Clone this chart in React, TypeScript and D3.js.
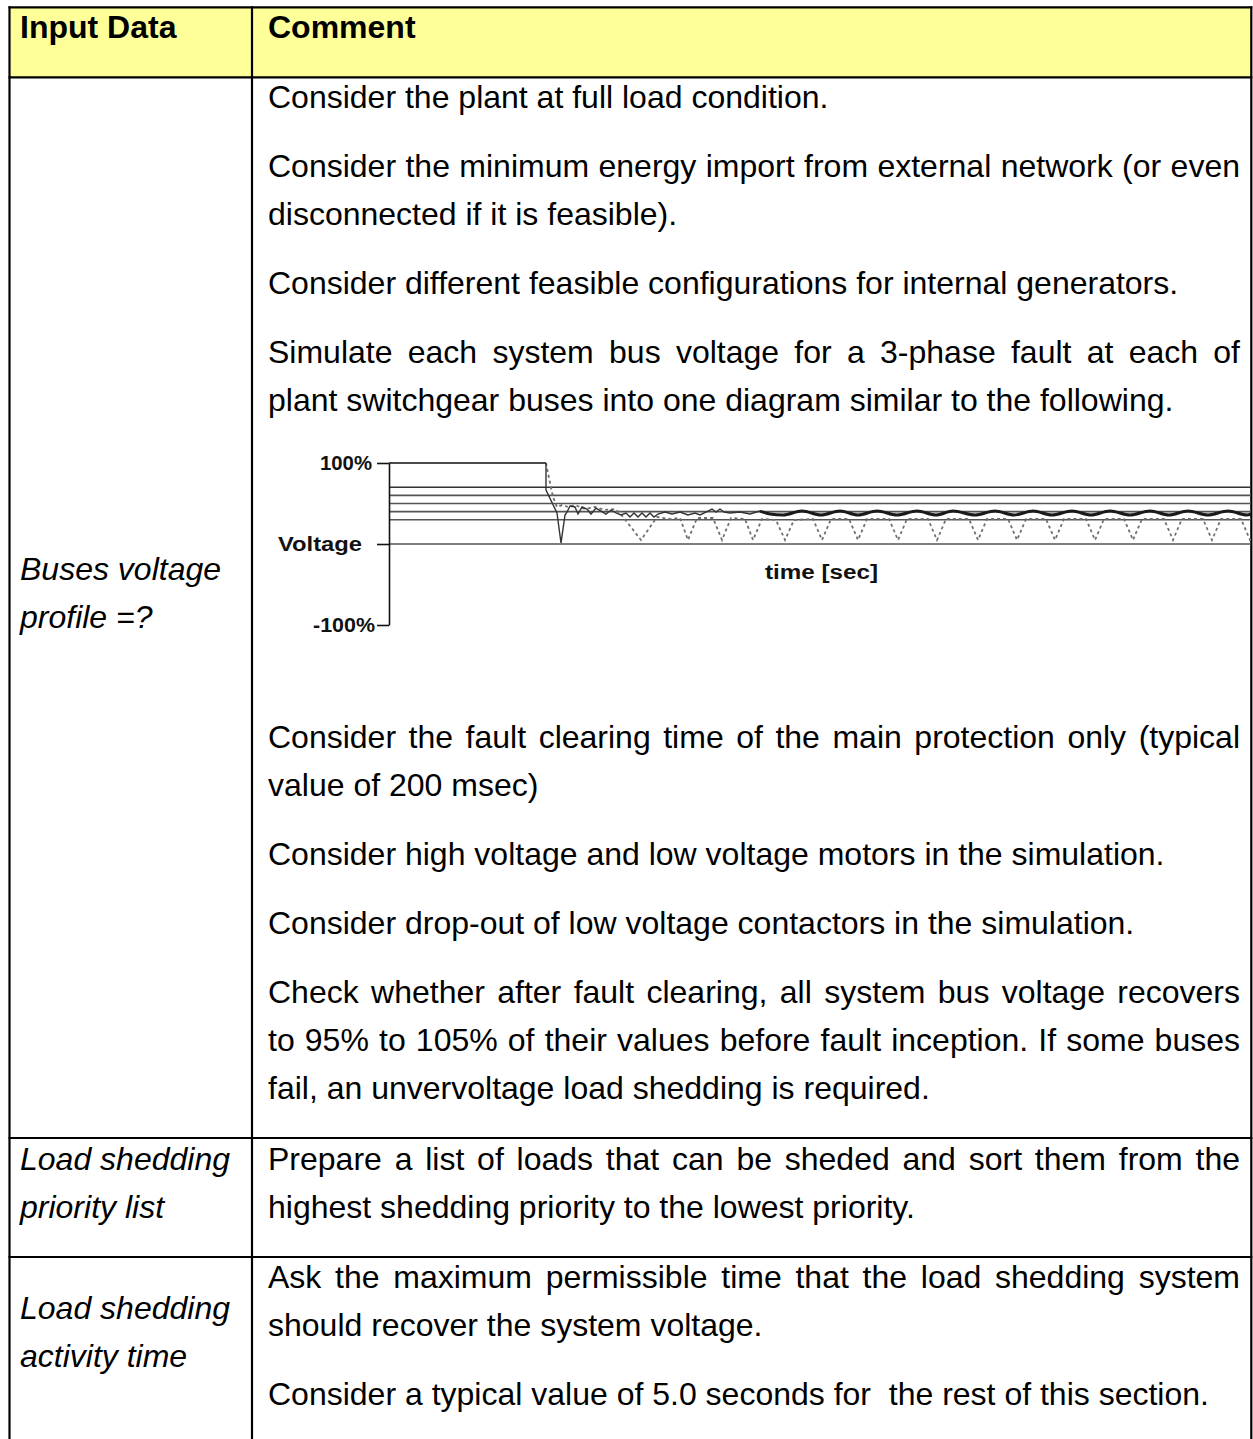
import React, { useEffect, useRef } from "react";
import * as d3 from "d3";

// ---------- table content ----------
const headerLabels = ["Input Data", "Comment"];
const inputLabels = [
  ["Buses voltage", "profile =?"],
  ["Load shedding", "priority list"],
  ["Load shedding", "activity time"],
];
const row1ParagraphsBefore = [
  ["Consider the plant at full load condition."],
  ["Consider the minimum energy import from external network (or even", "disconnected if it is feasible)."],
  ["Consider different feasible configurations for internal generators."],
  ["Simulate each system bus voltage for a 3-phase fault at each of", "plant switchgear buses into one diagram similar to the following."],
];
const row1ParagraphsAfter = [
  ["Consider the fault clearing time of the main protection only (typical", "value of 200 msec)"],
  ["Consider high voltage and low voltage motors in the simulation."],
  ["Consider drop-out of low voltage contactors in the simulation."],
  [
    "Check whether after fault clearing, all system bus voltage recovers",
    "to 95% to 105% of their values before fault inception. If some buses",
    "fail, an unvervoltage load shedding is required.",
  ],
];
const row2Paragraphs = [
  ["Prepare a list of loads that can be sheded and sort them from the", "highest shedding priority to the lowest priority."],
];
const row3Paragraphs = [
  ["Ask the maximum permissible time that the load shedding system", "should recover the system voltage."],
  ["Consider a typical value of 5.0 seconds for  the rest of this section."],
];

// ---------- chart content ----------
const yTickValues = [100, 0, -100];
const yTickLabels = ["100%", "Voltage", "-100%"];
const xAxisLabel = "time [sec]";
const timeDomain = [0, 86.2];
const busLevels = [70, 60, 50, 40, 30, 0];
const prefaultSeries: [number, number][] = [[0, 100], [15.7, 100]];
const transientSeries: [number, number][] = [
  [15.7, 100], [15.7, 66.7], [16.8, 38.3], [17.2, 1.2], [17.6, 35.8], [17.8, 39.5],
  [18.1, 46.9], [18.6, 45.7], [18.9, 37.0], [19.3, 45.7], [19.8, 43.2], [20.2, 37.0],
  [20.7, 44.4], [21.2, 40.7], [21.7, 37.0], [22.2, 42.0], [22.7, 38.3], [23.2, 35.8],
  [23.7, 38.3], [24.1, 33.3], [24.5, 38.3], [24.9, 33.3], [25.3, 38.3], [25.7, 33.3],
  [26.1, 38.3], [26.5, 33.3], [26.9, 37.0], [27.6, 39.5], [28.3, 37.0], [29.1, 39.5],
  [29.9, 35.8], [30.6, 38.3], [31.1, 35.8], [31.9, 40.7], [32.3, 43.2], [32.7, 39.5],
  [33.1, 43.2], [33.5, 39.5], [34.1, 38.3], [35.1, 39.5], [36.1, 37.0], [37.1, 40.7],
];
const steadySeries: [number, number][] = [
  [37.1, 40.7], [38.1, 37.0], [39.4, 35.8], [41.3, 40.7], [43.2, 35.8], [45.1, 40.7],
  [46.9, 35.8], [48.8, 40.7], [50.8, 35.8], [52.8, 40.7], [54.7, 35.8], [56.4, 40.7],
  [58.6, 35.8], [60.6, 40.7], [62.5, 35.8], [64.4, 40.7], [66.3, 35.8], [68.3, 40.7],
  [70.2, 35.8], [72.1, 40.7], [74.1, 35.8], [76.1, 40.7], [78.0, 35.8], [79.9, 40.7],
  [81.9, 35.8], [83.9, 40.7], [85.8, 35.8], [86.2, 37.0],
];
const dottedSeries: [number, number][] = [
  [15.7, 100], [16.0, 81.5], [16.4, 58.0], [16.8, 45.7], [17.3, 48.1], [17.9, 45.7],
  [18.6, 48.1], [19.6, 43.2], [20.6, 45.7], [21.6, 42.0], [22.6, 43.2], [23.1, 38.3],
  [25.2, 4.9], [26.8, 33.3], [28.1, 30.9], [29.1, 32.1], [29.9, 4.9], [30.8, 32.1],
  [32.4, 32.1], [33.3, 4.9], [34.2, 32.1], [35.6, 30.9], [36.4, 4.9], [37.3, 30.9],
  [38.7, 29.6], [39.6, 4.9], [40.5, 29.6], [42.4, 30.9], [43.3, 4.9], [44.2, 30.9],
  [46.0, 30.9], [46.9, 4.9], [47.8, 30.9], [50.0, 30.9], [50.9, 4.9], [51.8, 30.9],
  [53.9, 30.9], [54.8, 4.9], [55.7, 30.9], [58.0, 30.9], [58.9, 4.9], [59.8, 30.9],
  [61.9, 30.9], [62.8, 4.9], [63.7, 30.9], [65.7, 30.9], [66.6, 4.9], [67.5, 30.9],
  [69.7, 30.9], [70.6, 4.9], [71.5, 30.9], [73.5, 30.9], [74.4, 4.9], [75.3, 30.9],
  [77.5, 30.9], [78.4, 4.9], [79.3, 30.9], [81.4, 30.9], [82.3, 4.9], [83.2, 30.9],
  [85.2, 30.9], [86.1, 4.9], [86.2, 7.0],
];

const W = 1253;
const H = 1439;
const FONT = "'Liberation Sans', Arial, Helvetica, sans-serif";
const FS = 32;

export default function App() {
  const ref = useRef<SVGSVGElement>(null);

  useEffect(() => {
    const svg = d3.select(ref.current);
    svg.selectAll("*").remove();

    // ---------- table frame ----------
    const xL = 9.5, xC = 252, xR = 1251.3;
    const yTop = 7.3, yHead = 77.3, yRow2 = 1138, yRow3 = 1257;
    svg.append("rect").attr("x", xL).attr("y", yTop).attr("width", xR - xL).attr("height", yHead - yTop).attr("fill", "#FFFF99");
    const frame = svg.append("g").attr("stroke", "#000").attr("stroke-width", 2.2);
    [yTop, yHead, yRow2, yRow3].forEach((y) =>
      frame.append("line").attr("x1", xL - 1).attr("x2", xR + 1).attr("y1", y).attr("y2", y)
    );
    [xL, xC, xR].forEach((x) =>
      frame.append("line").attr("x1", x).attr("x2", x).attr("y1", yTop - 1).attr("y2", H)
    );

    const text = svg.append("g").attr("font-family", FONT).attr("font-size", FS).attr("fill", "#000");

    function addLine(str: string, x0: number, y: number, opts: { bold?: boolean; italic?: boolean; justifyTo?: number } = {}) {
      const t = text.append("text").attr("x", x0).attr("y", y).style("white-space", "pre");
      if (opts.bold) t.attr("font-weight", "bold");
      if (opts.italic) t.attr("font-style", "italic");
      if (opts.justifyTo) {
        const words = str.split(" ");
        const spans = words.map((w) => t.append("tspan").text(w));
        const widths = spans.map((s) => (s.node() as SVGTextContentElement).getComputedTextLength());
        const gap = (opts.justifyTo - x0 - d3.sum(widths)) / (words.length - 1);
        let cx = x0;
        spans.forEach((s, i) => {
          s.attr("x", cx);
          cx += widths[i] + gap;
        });
      } else {
        t.text(str);
      }
    }

    const PITCH = 48;
    const PARA = 69;
    const textX = 268;
    const textRight = 1240;
    function addParagraphs(paras: string[][], startY: number) {
      let y = startY;
      paras.forEach((p) => {
        p.forEach((line, i) => {
          const last = i === p.length - 1;
          addLine(line, textX, y + i * PITCH, last ? {} : { justifyTo: textRight });
        });
        y += (p.length - 1) * PITCH + PARA;
      });
    }

    // header
    addLine(headerLabels[0], 20, 38, { bold: true });
    addLine(headerLabels[1], textX, 38, { bold: true });

    // input column
    const inputStarts = [580, 1170, 1319];
    inputLabels.forEach((lines, r) =>
      lines.forEach((l, i) => addLine(l, 20, inputStarts[r] + i * PITCH, { italic: true }))
    );

    addParagraphs(row1ParagraphsBefore, 108);
    addParagraphs(row1ParagraphsAfter, 748);
    addParagraphs(row2Paragraphs, 1170);
    addParagraphs(row3Paragraphs, 1288);

    // ---------- embedded chart ----------
    const x = d3.scaleLinear().domain(timeDomain).range([389, 1251]);
    const y = d3.scaleLinear().domain([-100, 100]).range([625, 463]);
    const chart = svg.append("g");

    busLevels.forEach((v, i) =>
      chart.append("line")
        .attr("x1", x(timeDomain[0])).attr("x2", x(timeDomain[1]))
        .attr("y1", y(v)).attr("y2", y(v))
        .attr("stroke", i === 0 ? "#333" : "#555").attr("stroke-width", 1.6)
    );

    const lineLinear = d3.line<[number, number]>().x((d) => x(d[0])).y((d) => y(d[1]));
    const lineSmooth = d3.line<[number, number]>().x((d) => x(d[0])).y((d) => y(d[1])).curve(d3.curveMonotoneX);

    chart.append("path").attr("d", lineLinear(dottedSeries)).attr("fill", "none")
      .attr("stroke", "#707070").attr("stroke-width", 1.8).attr("stroke-dasharray", "3,3");
    chart.append("path").attr("d", lineLinear(prefaultSeries)).attr("fill", "none")
      .attr("stroke", "#111").attr("stroke-width", 1.7);
    chart.append("path").attr("d", lineLinear(transientSeries)).attr("fill", "none")
      .attr("stroke", "#333").attr("stroke-width", 1.4);
    chart.append("path").attr("d", lineSmooth(steadySeries)).attr("fill", "none")
      .attr("stroke", "#1a1a1a").attr("stroke-width", 3);

    // y axis
    const axisG = chart.append("g").attr("transform", `translate(${x(0)},0)`)
      .call(
        d3.axisLeft(y).tickValues(yTickValues).tickSize(12).tickSizeOuter(0).tickPadding(5)
          .tickFormat((_, i) => yTickLabels[i])
      );
    axisG.select(".domain").attr("stroke", "#111").attr("stroke-width", 1.6);
    axisG.selectAll(".tick line").attr("stroke", "#111").attr("stroke-width", 1.6);
    const labelLayout = [
      { dx: 0, len: 52 },
      { dx: -10, len: 84 },
      { dx: 3, len: 62 },
    ];
    axisG.selectAll<SVGTextElement, number>(".tick text")
      .attr("font-family", FONT).attr("font-size", 20).attr("font-weight", "bold").attr("fill", "#111")
      .each(function (_, i) {
        const l = labelLayout[i];
        d3.select(this).attr("dx", l.dx).attr("textLength", l.len).attr("lengthAdjust", "spacingAndGlyphs");
      });

    chart.append("text").attr("x", 765).attr("y", 579)
      .attr("font-family", FONT).attr("font-size", 20).attr("font-weight", "bold").attr("fill", "#111")
      .attr("textLength", 113).attr("lengthAdjust", "spacingAndGlyphs")
      .text(xAxisLabel);
  }, []);

  return (
    <svg
      ref={ref}
      width={W}
      height={H}
      viewBox={`0 0 ${W} ${H}`}
      style={{ position: "absolute", left: 0, top: 0, display: "block", background: "#fff" }}
    />
  );
}
